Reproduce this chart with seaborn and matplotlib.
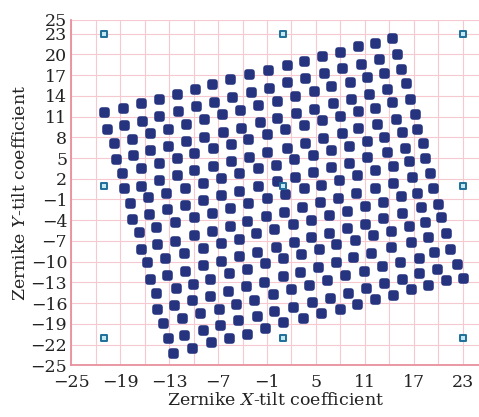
import matplotlib
matplotlib.use("Agg")
import matplotlib.pyplot as plt
from matplotlib.patches import FancyBboxPatch
import numpy as np
import pandas as pd
import seaborn as sns

# Measured tilt coefficients, one list per lattice row (17 spots each)
tilt_x_rows = [
    [-21.0, -18.7, -16.5, -14.3, -12.0, -9.8, -7.7, -5.5, -3.2, -0.9, 1.4, 3.5, 5.7, 7.9, 10.2, 12.3, 14.3],
    [-20.6, -18.5, -16.3, -14.2, -11.9, -9.7, -7.5, -5.3, -3.0, -0.8, 1.5, 3.7, 6.0, 8.2, 10.5, 12.7, 15.0],
    [-19.8, -17.6, -15.4, -13.1, -10.9, -8.7, -6.5, -4.3, -2.1, 0.2, 2.4, 4.7, 6.9, 9.2, 11.3, 13.4, 15.4],
    [-19.5, -17.4, -15.3, -13.1, -10.9, -8.7, -6.4, -4.2, -1.9, 0.2, 2.5, 4.7, 7.1, 9.3, 11.5, 13.7, 16.0],
    [-18.8, -16.5, -14.3, -12.1, -9.9, -7.6, -5.4, -3.3, -1.0, 1.2, 3.5, 5.7, 8.0, 10.1, 12.2, 14.3, 16.5],
    [-18.6, -16.5, -14.3, -12.1, -9.9, -7.6, -5.4, -3.2, -1.0, 1.4, 3.6, 5.9, 8.2, 10.2, 12.5, 14.8, 17.1],
    [-17.8, -15.6, -13.4, -11.1, -8.9, -6.6, -4.4, -2.1, 0.1, 2.3, 4.6, 6.8, 9.1, 11.3, 13.4, 15.5, 17.4],
    [-17.6, -15.5, -13.3, -11.1, -8.8, -6.6, -4.4, -2.1, 0.2, 2.4, 4.6, 6.9, 9.1, 11.3, 13.7, 15.9, 18.1],
    [-16.7, -14.6, -12.3, -10.0, -7.8, -5.6, -3.3, -1.0, 1.2, 3.5, 5.6, 7.8, 10.0, 12.2, 14.4, 16.4, 18.4],
    [-16.5, -14.5, -12.3, -10.0, -7.8, -5.6, -3.4, -1.1, 1.1, 3.3, 5.5, 7.7, 9.9, 12.3, 14.5, 16.8, 19.0],
    [-15.7, -13.5, -11.2, -8.9, -6.7, -4.4, -2.3, -0.1, 2.2, 4.4, 6.6, 8.8, 11.0, 13.2, 15.4, 17.4, 19.4],
    [-15.4, -13.3, -11.1, -8.9, -6.6, -4.4, -2.2, 0.1, 2.3, 4.4, 6.6, 8.8, 11.0, 13.2, 15.5, 17.9, 20.0],
    [-14.6, -12.2, -10.1, -8.0, -5.7, -3.5, -1.3, 1.0, 3.2, 5.4, 7.5, 9.8, 12.0, 14.2, 16.4, 18.4, 20.4],
    [-14.5, -12.4, -10.2, -8.0, -5.8, -3.6, -1.4, 0.9, 3.0, 5.2, 7.4, 9.6, 11.8, 14.2, 16.6, 18.8, 21.0],
    [-13.7, -11.4, -9.2, -6.9, -4.8, -2.6, -0.3, 1.9, 4.2, 6.4, 8.6, 10.9, 13.1, 15.3, 17.6, 19.5, 21.5],
    [-13.2, -11.2, -8.9, -6.8, -4.5, -2.2, -0.1, 2.2, 4.5, 6.7, 8.9, 11.1, 13.3, 15.5, 17.7, 19.9, 22.3],
    [-12.5, -10.2, -7.9, -5.7, -3.4, -1.2, 1.0, 3.4, 5.6, 7.9, 10.0, 12.2, 14.4, 16.6, 18.8, 20.9, 23.0],
]
tilt_y_rows = [
    [11.7, 12.3, 12.9, 13.6, 14.3, 15.0, 15.7, 16.4, 17.2, 17.8, 18.5, 19.1, 19.8, 20.4, 21.2, 21.7, 22.4],
    [9.2, 9.8, 10.4, 11.1, 11.8, 12.5, 13.1, 13.9, 14.5, 15.2, 16.0, 16.6, 17.3, 18.0, 18.6, 19.3, 20.1],
    [7.2, 7.8, 8.6, 9.2, 9.9, 10.6, 11.3, 12.0, 12.7, 13.3, 14.0, 14.7, 15.4, 16.0, 16.7, 17.3, 17.9],
    [4.8, 5.4, 6.1, 6.7, 7.4, 8.1, 8.8, 9.4, 10.2, 10.8, 11.5, 12.1, 12.9, 13.6, 14.3, 15.0, 15.8],
    [2.8, 3.6, 4.3, 5.0, 5.7, 6.4, 7.0, 7.7, 8.5, 9.2, 9.8, 10.5, 11.1, 11.8, 12.3, 13.1, 13.5],
    [0.6, 1.0, 1.8, 2.5, 3.2, 3.8, 4.5, 5.2, 5.8, 6.5, 7.2, 7.9, 8.6, 9.3, 9.9, 10.7, 11.3],
    [-1.5, -0.7, 0.0, 0.7, 1.4, 2.1, 2.8, 3.5, 4.0, 4.8, 5.4, 6.1, 6.7, 7.4, 8.0, 8.7, 9.2],
    [-3.8, -3.1, -2.4, -1.8, -1.1, -0.3, 0.2, 1.0, 1.7, 2.3, 3.0, 3.7, 4.3, 5.1, 5.8, 6.5, 7.2],
    [-5.7, -5.0, -4.3, -3.6, -2.9, -2.2, -1.5, -0.8, -0.2, 0.6, 1.1, 1.8, 2.5, 3.2, 3.8, 4.5, 5.0],
    [-8.1, -7.5, -7.0, -6.2, -5.5, -4.8, -4.1, -3.4, -2.8, -2.1, -1.4, -0.8, -0.1, 0.6, 1.4, 2.2, 2.8],
    [-10.1, -9.5, -8.8, -8.0, -7.3, -6.7, -5.9, -5.3, -4.6, -4.0, -3.2, -2.6, -1.9, -1.3, -0.5, 0.0, 0.6],
    [-12.5, -11.9, -11.3, -10.5, -9.9, -9.2, -8.6, -7.9, -7.2, -6.5, -5.8, -5.2, -4.5, -3.7, -3.0, -2.1, -1.6],
    [-14.5, -13.8, -13.2, -12.5, -11.7, -11.0, -10.2, -9.5, -8.9, -8.2, -7.5, -6.9, -6.1, -5.6, -4.9, -4.2, -3.6],
    [-16.9, -16.3, -15.6, -15.0, -14.2, -13.5, -12.9, -12.1, -11.5, -10.8, -10.1, -9.3, -8.7, -7.9, -7.2, -6.5, -5.9],
    [-18.9, -18.2, -17.5, -16.8, -16.2, -15.5, -14.7, -14.0, -13.4, -12.6, -12.0, -11.3, -10.7, -10.1, -9.4, -8.6, -8.1],
    [-21.1, -20.6, -19.9, -19.2, -18.5, -17.9, -17.2, -16.6, -15.8, -15.2, -14.6, -13.8, -13.1, -12.5, -11.6, -11.1, -10.3],
    [-23.2, -22.5, -21.7, -21.1, -20.4, -19.6, -18.8, -18.2, -17.4, -16.8, -16.1, -15.4, -14.8, -14.0, -13.4, -12.7, -12.3],
]

# Reference (calibration) positions
ref_x = [-21, 1, 23, -21, 1, 23, -21, 1, 23]
ref_y = [23, 23, 23, 1, 1, 1, -21, -21, -21]

x_ticks = list(range(-25, 24, 6))
x_minor = list(range(-22, 24, 6))
y_ticks = list(range(-25, 24, 3)) + [25]

spots = pd.DataFrame({
    "x": np.concatenate(tilt_x_rows),
    "y": np.concatenate(tilt_y_rows),
})
refs = pd.DataFrame({"x": ref_x, "y": ref_y})

sns.set_style("white")
plt.rcParams["font.family"] = ["DejaVu Serif"]
plt.rcParams["mathtext.fontset"] = "custom"
plt.rcParams["mathtext.rm"] = "DejaVu Serif"
plt.rcParams["mathtext.it"] = "DejaVu Serif:italic"
plt.rcParams["axes.unicode_minus"] = True

fig = plt.figure(figsize=(4.79, 4.17), dpi=100)
ax = fig.add_axes([0.149, 0.124, 0.851, 0.8285])

# Rounded-square marker outline
rounded_square = FancyBboxPatch((-0.5, -0.5), 1.0, 1.0,
                                boxstyle="round,pad=0,rounding_size=0.3").get_path()

spot_color = "#26347f"
sns.scatterplot(data=spots, x="x", y="y", marker=rounded_square, s=58,
                color=spot_color, linewidth=0, ax=ax, zorder=3)

sns.scatterplot(data=refs, x="x", y="y", marker="s", s=16, color="#c4e9f3",
                edgecolor="#1f6f98", linewidth=1.4, ax=ax, zorder=4)

ax.set_xlim(-25, 25)
ax.set_ylim(-25, 25)
ax.set_xticks(x_ticks)
ax.set_xticks(x_minor, minor=True)
ax.set_yticks(y_ticks)

grid_color = "#f6c8cf"
axis_color = "#e8909c"
ax.grid(which="both", color=grid_color, linewidth=0.8)
ax.set_axisbelow(True)

for side in ("top", "right"):
    ax.spines[side].set_visible(False)
for side in ("left", "bottom"):
    ax.spines[side].set_color(axis_color)
    ax.spines[side].set_linewidth(1.3)

ax.tick_params(which="both", direction="in", color=axis_color, length=4,
               width=1.0, labelsize=12.5, labelcolor="#222222")
ax.tick_params(axis="x", pad=6)
ax.tick_params(axis="y", pad=3)

ax.set_xlabel("Zernike $X$-tilt coefficient", fontsize=12.5, color="#222222", labelpad=1)
ax.set_ylabel("Zernike $Y$-tilt coefficient", fontsize=12.5, color="#222222", labelpad=1)

fig.savefig("out.png", dpi=100)
